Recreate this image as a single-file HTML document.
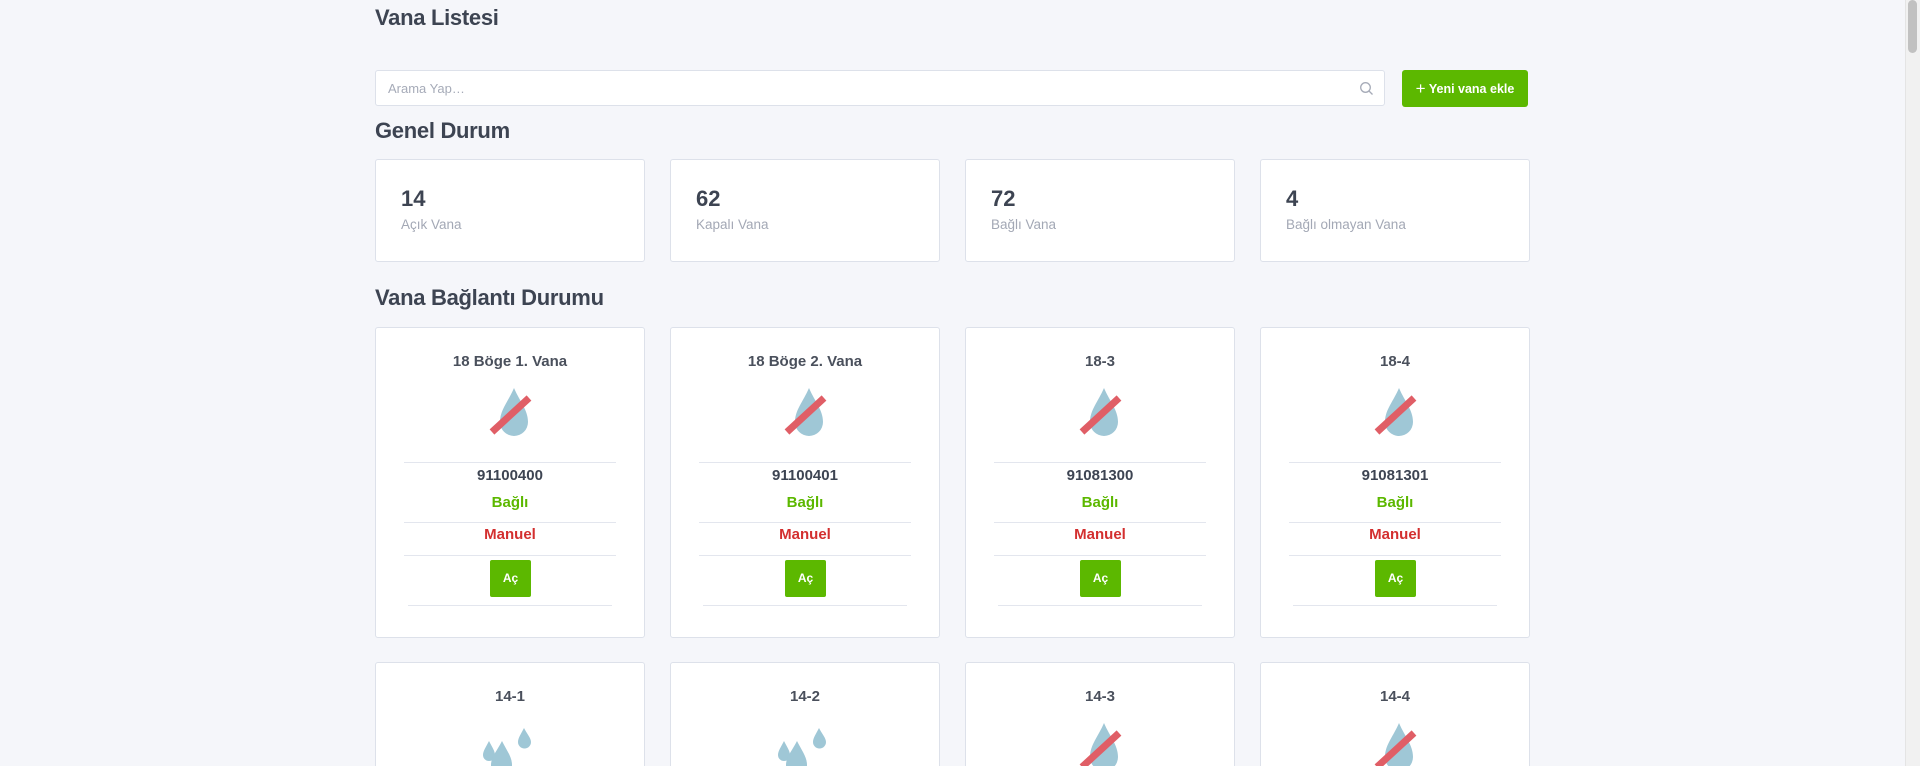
<!DOCTYPE html>
<html><head><meta charset="utf-8"><style>
*{box-sizing:border-box;margin:0;padding:0}
html,body{width:1920px;height:766px;overflow:hidden}
body{background:#f5f6fa;font-family:"Liberation Sans",sans-serif;color:#3d4452}
#w{position:relative;width:1920px;height:766px;overflow:hidden}
.a{position:absolute}
h1,h2{position:absolute;left:375px;font-weight:bold;color:#3d4452;letter-spacing:-0.3px}
.search{left:375px;top:70px;width:1010px;height:36px;background:#fff;border:1px solid #dde1ea;border-radius:3px}
.search span{position:absolute;left:12px;top:10px;font-size:13px;color:#a6abb8}
.btn{left:1402px;top:70px;width:126px;height:37px;background:#5cb800;border-radius:3px;color:#fff;font-size:12.5px;font-weight:bold;text-align:center;line-height:37px}
.stat{width:270px;height:103px;top:159px;background:#fff;border:1px solid #dde1ea;border-radius:3px}
.stat b{position:absolute;left:25px;top:26px;font-size:22px;font-weight:bold;color:#3d4452}
.stat span{position:absolute;left:25px;top:57px;font-size:13.5px;color:#a3a8b5}
.card{width:270px;height:311px;background:#fff;border:1px solid #dde1ea;border-radius:3px}
.r2{height:104px;border-bottom:none;border-radius:3px 3px 0 0;overflow:hidden}
.card .t{position:absolute;left:0;right:0;top:25px;text-align:center;font-size:15px;font-weight:bold;color:#4a505c}
.card svg{position:absolute;left:110px;top:58px}
.ln{position:absolute;left:28px;right:28px;height:1px;background:#e3e6ee}
.c{position:absolute;left:0;right:0;text-align:center;font-weight:bold;font-size:15px}
.ac{position:absolute;left:114px;top:232px;width:41px;height:37px;background:#5cb800;border-radius:2px;color:#fff;font-size:12px;font-weight:bold;text-align:center;line-height:37px}
</style></head><body><div id="w">
<h1 style="top:5px;font-size:22px">Vana Listesi</h1>
<div class="a search"><span>Arama Yap…</span>
<svg class="a" style="right:10px;top:10px" width="15" height="15" viewBox="0 0 15 15"><circle cx="6.5" cy="6.5" r="4.8" fill="none" stroke="#a6abb8" stroke-width="1.3"/><line x1="10" y1="10" x2="13.5" y2="13.5" stroke="#a6abb8" stroke-width="1.3"/></svg></div>
<div class="a btn"><span style="font-size:17px;font-weight:normal;vertical-align:-1px">+</span> Yeni vana ekle</div>
<h2 style="top:118px;font-size:22px">Genel Durum</h2>
<div class="a stat" style="left:375px"><b>14</b><span>Açık Vana</span></div>
<div class="a stat" style="left:670px"><b>62</b><span>Kapalı Vana</span></div>
<div class="a stat" style="left:965px"><b>72</b><span>Bağlı Vana</span></div>
<div class="a stat" style="left:1260px"><b>4</b><span>Bağlı olmayan Vana</span></div>
<h2 style="top:285px;font-size:22px">Vana Bağlantı Durumu</h2>

<div class="a card" style="left:375px;top:327px"><div class="t">18 Böge 1. Vana</div>
<svg width="50" height="56" viewBox="0 0 50 56"><path d="M28 2 C22 16,14 24,14 36 a14 14 0 0 0 28 0 C42 24,34 16,28 2Z" fill="#9fc7d6"/><line x1="6" y1="46" x2="43" y2="12" stroke="#e05e66" stroke-width="7"/></svg>
<div class="ln" style="top:134px"></div><div class="c" style="top:139px;color:#3d4452">91100400</div><div class="c" style="top:166px;color:#5cb800">Bağlı</div>
<div class="ln" style="top:194px"></div><div class="c" style="top:198px;color:#d32f2f">Manuel</div><div class="ln" style="top:227px"></div><div class="ac">Aç</div><div class="ln" style="top:277px;left:32px;right:32px"></div></div>
<div class="a card" style="left:670px;top:327px"><div class="t">18 Böge 2. Vana</div>
<svg width="50" height="56" viewBox="0 0 50 56"><path d="M28 2 C22 16,14 24,14 36 a14 14 0 0 0 28 0 C42 24,34 16,28 2Z" fill="#9fc7d6"/><line x1="6" y1="46" x2="43" y2="12" stroke="#e05e66" stroke-width="7"/></svg>
<div class="ln" style="top:134px"></div><div class="c" style="top:139px;color:#3d4452">91100401</div><div class="c" style="top:166px;color:#5cb800">Bağlı</div>
<div class="ln" style="top:194px"></div><div class="c" style="top:198px;color:#d32f2f">Manuel</div><div class="ln" style="top:227px"></div><div class="ac">Aç</div><div class="ln" style="top:277px;left:32px;right:32px"></div></div>
<div class="a card" style="left:965px;top:327px"><div class="t">18-3</div>
<svg width="50" height="56" viewBox="0 0 50 56"><path d="M28 2 C22 16,14 24,14 36 a14 14 0 0 0 28 0 C42 24,34 16,28 2Z" fill="#9fc7d6"/><line x1="6" y1="46" x2="43" y2="12" stroke="#e05e66" stroke-width="7"/></svg>
<div class="ln" style="top:134px"></div><div class="c" style="top:139px;color:#3d4452">91081300</div><div class="c" style="top:166px;color:#5cb800">Bağlı</div>
<div class="ln" style="top:194px"></div><div class="c" style="top:198px;color:#d32f2f">Manuel</div><div class="ln" style="top:227px"></div><div class="ac">Aç</div><div class="ln" style="top:277px;left:32px;right:32px"></div></div>
<div class="a card" style="left:1260px;top:327px"><div class="t">18-4</div>
<svg width="50" height="56" viewBox="0 0 50 56"><path d="M28 2 C22 16,14 24,14 36 a14 14 0 0 0 28 0 C42 24,34 16,28 2Z" fill="#9fc7d6"/><line x1="6" y1="46" x2="43" y2="12" stroke="#e05e66" stroke-width="7"/></svg>
<div class="ln" style="top:134px"></div><div class="c" style="top:139px;color:#3d4452">91081301</div><div class="c" style="top:166px;color:#5cb800">Bağlı</div>
<div class="ln" style="top:194px"></div><div class="c" style="top:198px;color:#d32f2f">Manuel</div><div class="ln" style="top:227px"></div><div class="ac">Aç</div><div class="ln" style="top:277px;left:32px;right:32px"></div></div>

<div class="a card r2" style="left:375px;top:662px"><div class="t">14-1</div>
<svg width="60" height="56" viewBox="0 0 60 56" style="left:105px"><path d="M8 20 C5 26,2 30,2 34 a6 6 0 0 0 12 0 C14 30,11 26,8 20Z" fill="#9fc7d6"/><path d="M21 20 C16 30,10 36,10 44 a10 10 0 0 0 21 0 C31 36,26 30,21 20Z" fill="#9fc7d6"/><path d="M43 7 C40 13,37 17,37 21 a6.5 6.5 0 0 0 13 0 C50 17,46 13,43 7Z" fill="#9fc7d6"/></svg></div>
<div class="a card r2" style="left:670px;top:662px"><div class="t">14-2</div>
<svg width="60" height="56" viewBox="0 0 60 56" style="left:105px"><path d="M8 20 C5 26,2 30,2 34 a6 6 0 0 0 12 0 C14 30,11 26,8 20Z" fill="#9fc7d6"/><path d="M21 20 C16 30,10 36,10 44 a10 10 0 0 0 21 0 C31 36,26 30,21 20Z" fill="#9fc7d6"/><path d="M43 7 C40 13,37 17,37 21 a6.5 6.5 0 0 0 13 0 C50 17,46 13,43 7Z" fill="#9fc7d6"/></svg></div>
<div class="a card r2" style="left:965px;top:662px"><div class="t">14-3</div>
<svg width="50" height="56" viewBox="0 0 50 56"><path d="M28 2 C22 16,14 24,14 36 a14 14 0 0 0 28 0 C42 24,34 16,28 2Z" fill="#9fc7d6"/><line x1="6" y1="46" x2="43" y2="12" stroke="#e05e66" stroke-width="7"/></svg></div>
<div class="a card r2" style="left:1260px;top:662px"><div class="t">14-4</div>
<svg width="50" height="56" viewBox="0 0 50 56"><path d="M28 2 C22 16,14 24,14 36 a14 14 0 0 0 28 0 C42 24,34 16,28 2Z" fill="#9fc7d6"/><line x1="6" y1="46" x2="43" y2="12" stroke="#e05e66" stroke-width="7"/></svg></div>

<div class="a" style="left:1905px;top:0;width:15px;height:766px;background:#f1f1f1;border-left:1px solid #e4e4e4"></div>
<div class="a" style="left:1908px;top:0;width:9px;height:53px;background:#c1c1c1;border-radius:5px"></div>
</div></body></html>
